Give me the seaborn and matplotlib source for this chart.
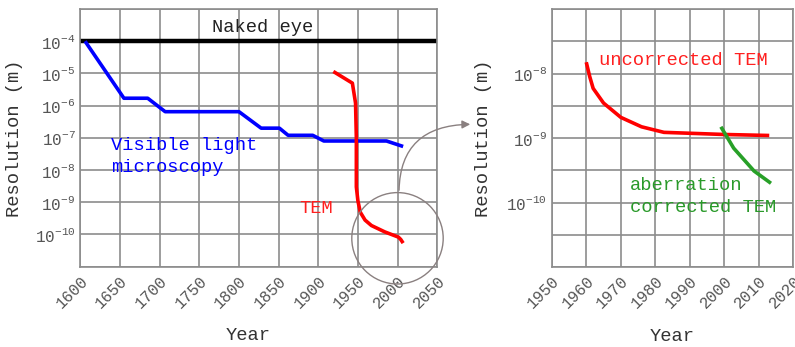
import numpy as np
import pandas as pd
import matplotlib
matplotlib.use("Agg")
import matplotlib.pyplot as plt
from matplotlib.patches import Ellipse, FancyArrowPatch
from matplotlib.ticker import FixedLocator, FuncFormatter
import seaborn as sns

# ---- data -------------------------------------------------------------
light_year = [1606, 1655, 1685, 1707, 1800, 1828, 1851, 1862, 1893, 1907, 1986, 2007]
light_res = [1e-4, 1.7e-6, 1.7e-6, 6.5e-7, 6.5e-7, 2e-7, 2e-7, 1.2e-7, 1.2e-7, 8e-8, 8e-8, 5.4e-8]

tem_year = [1919, 1943, 1947, 1948, 1948, 1950, 1953, 1959, 1967, 1984, 2001, 2004, 2007]
tem_res = [1.15e-5, 5e-6, 1.2e-6, 1e-7, 3e-9, 1.1e-9, 4.9e-10, 2.8e-10, 1.9e-10,
           1.2e-10, 8.3e-11, 7e-11, 5.4e-11]

eye_year = [1600, 2050]
eye_res = [1e-4, 1e-4]

unc_year = [1960, 1961, 1962, 1965, 1970, 1976, 1982.5, 2000, 2013]
unc_res = [1.5e-8, 9e-9, 5.9e-9, 3.5e-9, 2.1e-9, 1.5e-9, 1.23e-9, 1.14e-9, 1.1e-9]

abc_year = [1999, 2002.7, 2008.6, 2013.5]
abc_res = [1.5e-9, 7e-10, 3.1e-10, 2.0e-10]

left_xticks = list(range(1600, 2051, 50))
right_xticks = list(range(1950, 2021, 10))

# ---- style ------------------------------------------------------------
sns.set_theme(style="whitegrid")
mono = ["Liberation Mono", "DejaVu Sans Mono"]
plt.rcParams["font.family"] = mono
plt.rcParams["mathtext.default"] = "regular"
GRID = "#8c8c8c"
TXT = "#555555"
FS = 13.5
TICK_FS = 11.5

fig = plt.figure(figsize=(7.95, 3.47), dpi=100)
axL = fig.add_axes([0.101, 0.2314, 0.449, 0.7426])
axR = fig.add_axes([0.694, 0.2297, 0.304, 0.7443])


def style_axes(ax):
    ax.set_facecolor("white")
    ax.grid(True, which="major", color=GRID, linewidth=1.2)
    ax.grid(False, which="minor")
    for s in ax.spines.values():
        s.set_color(GRID)
        s.set_linewidth(1.2)
    ax.tick_params(axis="both", which="both", length=0, labelsize=TICK_FS,
                   labelcolor=TXT)
    ax.tick_params(axis="y", pad=3.5)
    ax.tick_params(axis="x", pad=4.5)
    for lab in ax.get_xticklabels():
        lab.set_rotation(45)
        lab.set_ha("right")
        lab.set_va("top")
        lab.set_rotation_mode("anchor")


def exp_formatter(shown):
    def f(v, pos):
        e = np.log10(v)
        if abs(e - round(e)) < 1e-6 and int(round(e)) in shown:
            return r"10$^{%d}$" % int(round(e))
        return ""
    return FuncFormatter(f)


def draw(ax, x, y, color, lw):
    df = pd.DataFrame({"year": x, "res": y})
    sns.lineplot(data=df, x="year", y="res", ax=ax, color=color, linewidth=lw,
                 sort=False, estimator=None, solid_capstyle="butt")


# ---- left panel -------------------------------------------------------
draw(axL, eye_year, eye_res, "black", 3.2)
draw(axL, light_year, light_res, "#0000ff", 2.6)
draw(axL, tem_year, tem_res, "#ff0000", 2.6)
axL.set_yscale("log")
axL.set_xlim(1600, 2050)
axL.set_ylim(1e-11, 1e-3)
axL.xaxis.set_major_locator(FixedLocator(left_xticks))
axL.yaxis.set_major_locator(FixedLocator([10.0 ** e for e in range(-11, -2)]))
axL.yaxis.set_minor_locator(FixedLocator([]))
axL.yaxis.set_major_formatter(exp_formatter(range(-10, -3)))
axL.set_xlabel("Year", fontsize=FS, color="#333333")
axL.set_ylabel("Resolution (m)", fontsize=FS, color="#333333")
axL.xaxis.set_label_coords(0.47, -0.234)
axL.yaxis.set_label_coords(-0.16, 0.5)
style_axes(axL)

axL.text(1830, 10 ** -3.57, "Naked eye", fontsize=FS, color="#222222",
         ha="center", va="center")
axL.text(1638.7, 10 ** -7.58, "Visible light\nmicroscopy", fontsize=FS,
         color="#0000ff", ha="left", va="center", linespacing=1.43)
axL.text(1876.5, 10 ** -9.2, "TEM", fontsize=FS, color="#ff2020",
         ha="left", va="center")

# ---- right panel ------------------------------------------------------
draw(axR, unc_year, unc_res, "#ff0000", 2.6)
draw(axR, abc_year, abc_res, "#28a028", 2.6)
axR.set_yscale("log")
axR.set_xlim(1950, 2020)
axR.set_ylim(1e-11, 1e-7)
axR.xaxis.set_major_locator(FixedLocator(right_xticks))
axR.yaxis.set_major_locator(FixedLocator([10.0 ** e for e in np.arange(-11, -6.9, 0.5)]))
axR.yaxis.set_minor_locator(FixedLocator([]))
axR.yaxis.set_major_formatter(exp_formatter([-10, -9, -8]))
axR.set_xlabel("Year", fontsize=FS, color="#333333")
axR.set_ylabel("Resolution (m)", fontsize=FS, color="#333333")
axR.xaxis.set_label_coords(0.498, -0.234)
axR.yaxis.set_label_coords(-0.247, 0.5)
style_axes(axR)

axR.text(1963.7, 10 ** -7.79, "uncorrected TEM", fontsize=FS, color="#ff2020",
         ha="left", va="center")
axR.text(1972.7, 10 ** -9.9, "aberration\ncorrected TEM", fontsize=FS,
         color="#2a9a2a", ha="left", va="center", linespacing=1.37)

# ---- zoom marker: circle around recent TEM and arrow to right panel ----
W, H = 795.0, 347.0
cx, cy, r = 397.5, 238.3, 45.7
fig.patches.append(Ellipse((cx / W, 1 - cy / H), 2 * r / W, 2 * r / H,
                           transform=fig.transFigure, fill=False,
                           edgecolor="#8a8080", linewidth=1.0, zorder=5))
arrow = FancyArrowPatch((399 / W, 1 - 193 / H), (473 / W, 1 - 124.3 / H),
                        transform=fig.transFigure,
                        connectionstyle="angle3,angleA=90,angleB=0",
                        arrowstyle="-|>", mutation_scale=12,
                        color="#8a8080", linewidth=1.0, zorder=5)
fig.patches.append(arrow)

fig.savefig("out.png", dpi=100)
